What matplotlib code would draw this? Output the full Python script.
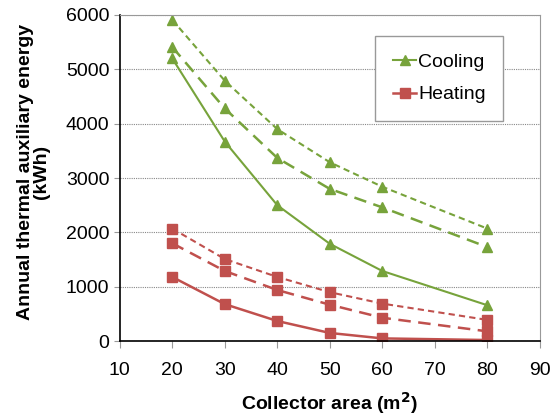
import matplotlib
matplotlib.use("Agg")
import matplotlib.pyplot as plt

plt.rcParams["font.family"] = ["Liberation Sans", "DejaVu Sans"]

area = [20, 30, 40, 50, 60, 80]
cooling_solid = [5200, 3670, 2500, 1790, 1290, 660]
cooling_dash = [5410, 4280, 3370, 2800, 2460, 1730]
cooling_short = [5910, 4790, 3900, 3290, 2840, 2070]
heating_solid = [1180, 680, 370, 150, 50, 20]
heating_dash = [1800, 1290, 940, 670, 430, 180]
heating_short = [2070, 1510, 1180, 900, 690, 390]

green = "#77a33b"
red = "#c0504d"

fig = plt.figure(figsize=(5.52, 4.16), dpi=100)
ax = fig.add_axes([0.217, 0.180, 0.761, 0.784])

ms = 7
ax.plot(area, cooling_solid, color=green, lw=1.5, marker="^", ms=ms, label="Cooling")
ax.plot(area, cooling_dash, color=green, lw=1.8, marker="^", ms=ms, dashes=(5, 3))
ax.plot(area, cooling_short, color=green, lw=1.5, marker="^", ms=ms, dashes=(3, 2))
ax.plot(area, heating_solid, color=red, lw=1.8, marker="s", ms=ms, label="Heating")
ax.plot(area, heating_dash, color=red, lw=1.8, marker="s", ms=ms, dashes=(5, 3))
ax.plot(area, heating_short, color=red, lw=1.5, marker="s", ms=ms, dashes=(3, 2))

ax.set_xlim(10, 90)
ax.set_ylim(0, 6000)
ax.set_xticks(range(10, 91, 10))
ax.set_yticks(range(0, 6001, 1000))
ax.grid(True, axis="y", color="#888888", linestyle=(0, (1, 1)), lw=0.8)
ax.set_axisbelow(True)

for s in ["left", "bottom"]:
    ax.spines[s].set_color("black")
    ax.spines[s].set_linewidth(1.2)
for s in ["top", "right"]:
    ax.spines[s].set_color("#999999")
ax.tick_params(axis="x", direction="out", length=5, color="#999999", labelsize=14, pad=10)
ax.tick_params(axis="y", direction="out", length=4, color="#999999", labelsize=14)

ax.set_xlabel("Collector area (m$^\\mathbf{2}$)", fontsize=14, fontweight="bold", labelpad=8)
ax.set_ylabel("Annual thermal auxiliary energy\n(kWh)", fontsize=14, fontweight="bold",
              linespacing=0.95)
ax.yaxis.set_label_coords(-0.165, 0.52)

ax.legend(loc="upper right", bbox_to_anchor=(0.913, 0.935), fontsize=14,
          fancybox=False, edgecolor="#999999", framealpha=1, handlelength=1.2,
          handletextpad=0.1, borderpad=0.9, labelspacing=0.75, borderaxespad=0)

fig.savefig("out.png", dpi=100)
